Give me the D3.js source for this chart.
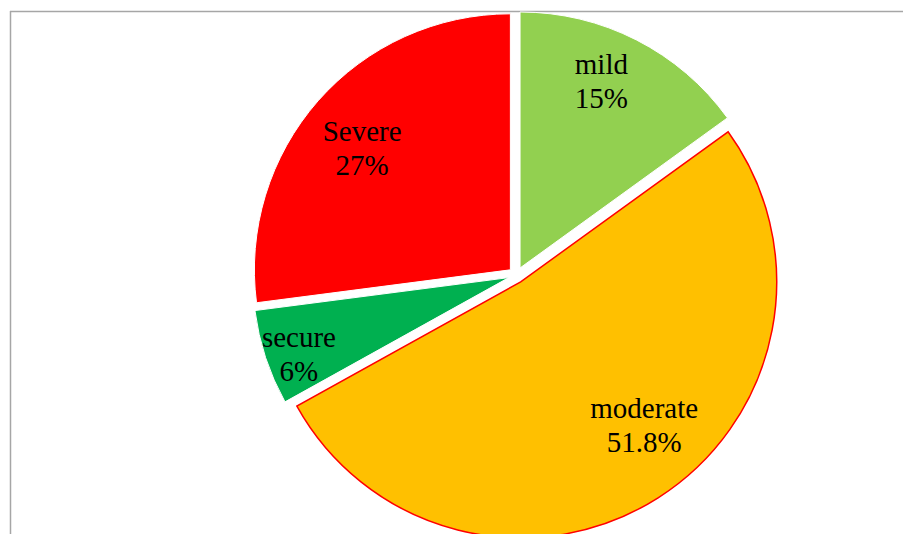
<!DOCTYPE html>
<html>
<head>
<meta charset="utf-8">
<script src="https://cdn.jsdelivr.net/npm/d3@7/dist/d3.min.js"></script>
<style>
  html, body { margin: 0; padding: 0; background: #fff; }
  svg { display: block; }
</style>
</head>
<body>
<svg id="chart" width="903" height="534"></svg>
<script>
// Severity categories and their shares (%)
const categories = ["mild", "moderate", "secure", "Severe"];
const values = [15, 51.8, 6, 27];
const valueLabels = ["15%", "51.8%", "6%", "27%"];
const colors = ["#92D050", "#FFC000", "#00B050", "#FF0000"];
const strokes = ["#FFFFFF", "#FF0000", "#FFFFFF", "#FFFFFF"];

// Label placement inside each slice: angle (deg, clockwise from 12 o'clock) and radius fraction
const labelAngles = [24.7, 141.2, 247.7, 307];
const labelRadii = [0.76, 0.77, 0.886, 0.725];

const width = 903, height = 534;
const cx = 516.4, cy = 275.1, radius = 256, explode = 8;

const svg = d3.select("#chart");

// plot-area frame
svg.append("line")
  .attr("x1", 10).attr("y1", 11.5).attr("x2", width).attr("y2", 11.5)
  .attr("stroke", "#a6a6a6").attr("stroke-width", 1.5);
svg.append("line")
  .attr("x1", 10.5).attr("y1", 11).attr("x2", 10.5).attr("y2", height)
  .attr("stroke", "#a6a6a6").attr("stroke-width", 1.5);

const data = categories.map((c, i) => ({ name: c, value: values[i], label: valueLabels[i], i }));

const pie = d3.pie().value(d => d.value).sort(null).startAngle(0).endAngle(2 * Math.PI);
const arc = d3.arc().innerRadius(0).outerRadius(radius);

const arcs = pie(data);

const g = svg.append("g").attr("transform", `translate(${cx},${cy})`);

// each slice is pulled out along its bisector
const slice = g.selectAll("g.slice").data(arcs).enter().append("g")
  .attr("class", "slice")
  .attr("transform", d => {
    const mid = (d.startAngle + d.endAngle) / 2;
    return `translate(${explode * Math.sin(mid)},${-explode * Math.cos(mid)})`;
  });

slice.append("path")
  .attr("d", arc)
  .attr("fill", d => colors[d.data.i])
  .attr("stroke", d => strokes[d.data.i])
  .attr("stroke-width", d => d.data.i === 1 ? 1.5 : 1)
  .attr("stroke-linejoin", "miter");

// category / percentage labels
const labels = slice.append("text")
  .attr("text-anchor", "middle")
  .attr("font-family", "'Liberation Serif', 'Times New Roman', serif")
  .attr("font-size", 29)
  .attr("fill", "#000")
  .attr("transform", d => {
    const a = labelAngles[d.data.i] * Math.PI / 180;
    const r = labelRadii[d.data.i] * radius;
    return `translate(${r * Math.sin(a)},${-r * Math.cos(a)})`;
  });

labels.append("tspan").attr("x", 0).attr("y", -17).text(d => d.data.name);
labels.append("tspan").attr("x", 0).attr("y", 17).text(d => d.data.label);
</script>
</body>
</html>
